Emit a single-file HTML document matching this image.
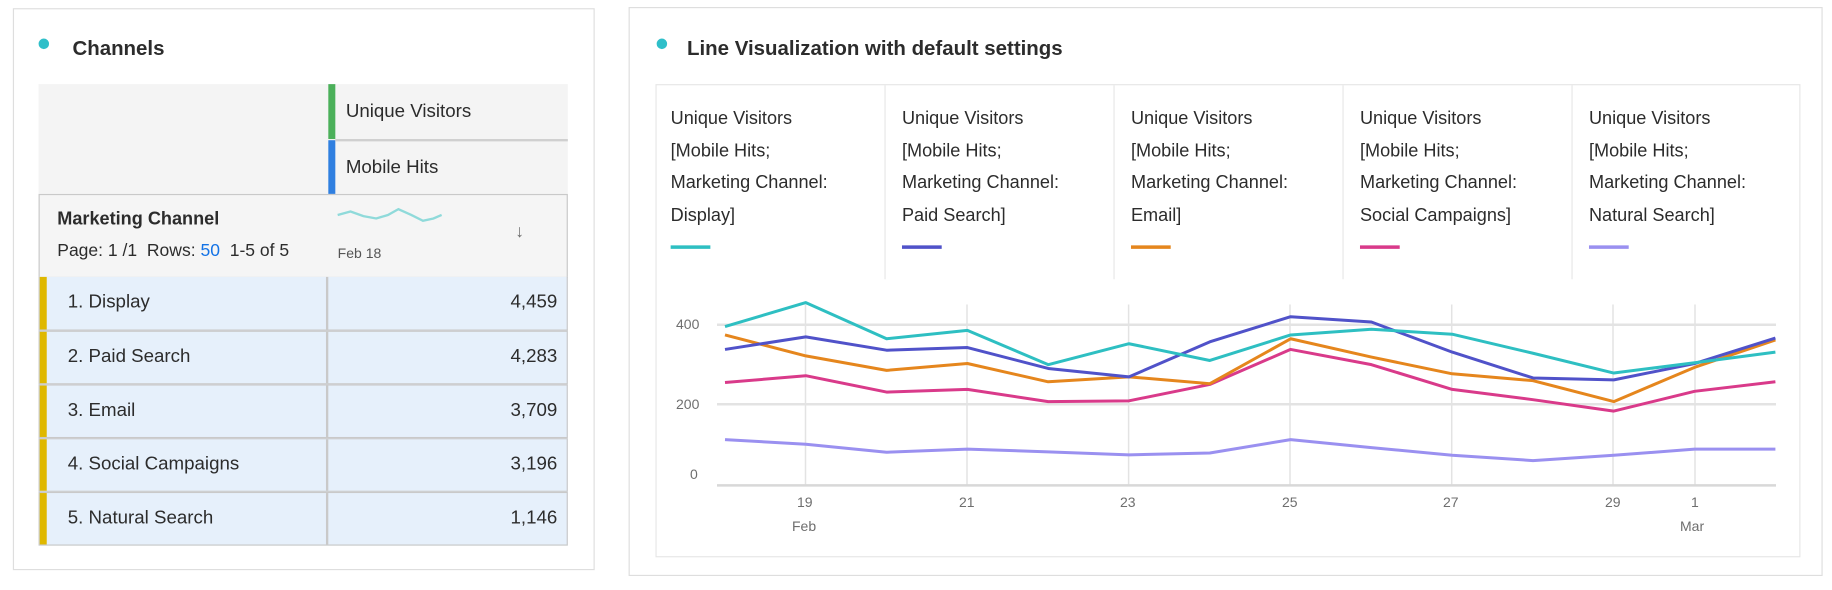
<!DOCTYPE html>
<html><head><meta charset="utf-8">
<style>
*{margin:0;padding:0;box-sizing:border-box}
body{width:1832px;height:590px;background:#fff;position:relative;overflow:hidden;font-family:"Liberation Sans",sans-serif;color:#2c2c2c}
#w{position:absolute;left:0;top:0;width:1568px;height:505px;transform:scale(1.16837);transform-origin:0 0}
.a{position:absolute}
.panel{border:1.5px solid #dedede}
.dot{width:9px;height:9px;border-radius:50%;background:#2fbfc9}
.t{font-weight:bold;font-size:17.5px;white-space:nowrap}
.leg{font-size:15.5px;line-height:27.5px;color:#2c2c2c;white-space:nowrap}
.sw{height:3px;width:34px}
.row{position:absolute;left:33px;width:453px;height:46px;background:#e6f0fb;border:1.5px solid #c9c9c9;border-top:none}
.row .y{position:absolute;left:0;top:0;bottom:0;width:6px;background:#dfb800}
.row .l{position:absolute;left:24px;top:13px;font-size:16px}
.row .v{position:absolute;right:8px;top:13px;font-size:16px}
.row .s{position:absolute;left:245px;top:0;bottom:0;width:2px;background:#c9c9c9}
.ax{position:absolute;font-size:14px;color:#6e6e6e;white-space:nowrap}
</style></head><body>
<div id="w">
  <div class="a panel" style="left:11px;top:7px;width:498px;height:481px"></div>
  <div class="a dot" style="left:33px;top:33px"></div>
  <div class="a t" style="left:62px;top:31px">Channels</div>
  <div class="a" style="left:33px;top:72px;width:453px;height:94px;background:#f4f4f4"></div>
  <div class="a" style="left:281px;top:72px;width:6px;height:47px;background:#4bb05a"></div>
  <div class="a" style="left:281px;top:120px;width:6px;height:46px;background:#2f7fe0"></div>
  <div class="a" style="left:287px;top:119px;width:199px;height:1.5px;background:#cfcfcf"></div>
  <div class="a" style="left:296px;top:87px;font-size:16px">Unique Visitors</div>
  <div class="a" style="left:296px;top:135px;font-size:16px">Mobile Hits</div>
  <div class="a" style="left:33px;top:166px;width:453px;height:72px;background:#f5f5f5;border:1.5px solid #c9c9c9"></div>
  <div class="a" style="left:49px;top:179px;font-size:15.5px;font-weight:bold">Marketing Channel</div>
  <div class="a" style="left:49px;top:206px;font-size:15px;white-space:nowrap">Page: 1 /1&nbsp; Rows: <span style="color:#1473e6">50</span>&nbsp; 1-5 of 5</div>
  <svg class="a" style="left:287px;top:176px" width="95" height="22"><polyline points="2,8 13,5 24,9 35,11 45,8 54,3 65,8 75,13 84,11 91,8" fill="none" stroke="#8fdada" stroke-width="2"/></svg>
  <div class="a" style="left:289px;top:210px;font-size:12px;color:#555">Feb 18</div>
  <div class="a" style="left:441px;top:190px;font-size:15px;font-weight:bold;color:#6e6e6e">&#8595;</div>
  <div class="row" style="top:237px"><div class="y"></div><div class="l">1. Display</div><div class="s"></div><div class="v">4,459</div></div>
  <div class="row" style="top:283px;border-top:1.5px solid #c9c9c9"><div class="y"></div><div class="l">2. Paid Search</div><div class="s"></div><div class="v">4,283</div></div>
  <div class="row" style="top:329px;border-top:1.5px solid #c9c9c9"><div class="y"></div><div class="l">3. Email</div><div class="s"></div><div class="v">3,709</div></div>
  <div class="row" style="top:375px;border-top:1.5px solid #c9c9c9"><div class="y"></div><div class="l">4. Social Campaigns</div><div class="s"></div><div class="v">3,196</div></div>
  <div class="row" style="top:421px;border-top:1.5px solid #c9c9c9"><div class="y"></div><div class="l">5. Natural Search</div><div class="s"></div><div class="v">1,146</div></div>

  <div class="a panel" style="left:538px;top:6px;width:1022px;height:487px"></div>
  <div class="a dot" style="left:562px;top:33px"></div>
  <div class="a t" style="left:588px;top:31px">Line Visualization with default settings</div>
  <div class="a" style="left:561px;top:72px;width:980px;height:405px;border:1.5px solid #e6e6e6"></div>
  <div class="a" style="left:757px;top:73px;width:1px;height:166px;background:#e6e6e6"></div>
  <div class="a" style="left:953px;top:73px;width:1px;height:166px;background:#e6e6e6"></div>
  <div class="a" style="left:1149px;top:73px;width:1px;height:166px;background:#e6e6e6"></div>
  <div class="a" style="left:1345px;top:73px;width:1px;height:166px;background:#e6e6e6"></div>
  <div class="a leg" style="left:574px;top:88px">Unique Visitors<br>[Mobile Hits;<br>Marketing Channel:<br>Display]</div>
  <div class="a leg" style="left:772px;top:88px">Unique Visitors<br>[Mobile Hits;<br>Marketing Channel:<br>Paid Search]</div>
  <div class="a leg" style="left:968px;top:88px">Unique Visitors<br>[Mobile Hits;<br>Marketing Channel:<br>Email]</div>
  <div class="a leg" style="left:1164px;top:88px">Unique Visitors<br>[Mobile Hits;<br>Marketing Channel:<br>Social Campaigns]</div>
  <div class="a leg" style="left:1360px;top:88px">Unique Visitors<br>[Mobile Hits;<br>Marketing Channel:<br>Natural Search]</div>
  <div class="a sw" style="left:574px;top:210px;background:#2ebfc2"></div>
  <div class="a sw" style="left:772px;top:210px;background:#5052c9"></div>
  <div class="a sw" style="left:968px;top:210px;background:#e5861d"></div>
  <div class="a sw" style="left:1164px;top:210px;background:#d93a8a"></div>
  <div class="a sw" style="left:1360px;top:210px;background:#9a90f0"></div>
</div>

<svg class="a" style="left:0;top:0" width="1832" height="590" viewBox="0 0 1832 1550" preserveAspectRatio="none">
 <g stroke="#e3e3e3" stroke-width="1.5" fill="none">
  <line x1="805.5" y1="800" x2="805.5" y2="1275" vector-effect="non-scaling-stroke"/>
  <line x1="967" y1="800" x2="967" y2="1275" vector-effect="non-scaling-stroke"/>
  <line x1="1128.6" y1="800" x2="1128.6" y2="1275" vector-effect="non-scaling-stroke"/>
  <line x1="1290" y1="800" x2="1290" y2="1275" vector-effect="non-scaling-stroke"/>
  <line x1="1451.7" y1="800" x2="1451.7" y2="1275" vector-effect="non-scaling-stroke"/>
  <line x1="1613" y1="800" x2="1613" y2="1275" vector-effect="non-scaling-stroke"/>
  <line x1="1695" y1="800" x2="1695" y2="1275" vector-effect="non-scaling-stroke"/>
  <line x1="717" y1="853" x2="1776" y2="853" stroke-width="2.5" vector-effect="non-scaling-stroke"/>
  <line x1="717" y1="1062" x2="1776" y2="1062" stroke-width="2.5" vector-effect="non-scaling-stroke"/>
  <line x1="717" y1="1275" x2="1776" y2="1275" stroke-width="2.5" stroke="#d8d8d8" vector-effect="non-scaling-stroke"/>
 </g>
 <g fill="none" stroke-width="3" stroke-linejoin="round">
  <polyline vector-effect="non-scaling-stroke" stroke="#9a90f0" points="725,1155 805.8,1167 886.6,1188 967.4,1180 1048.2,1187 1129,1195 1209.8,1190 1290.6,1155 1371.4,1176 1452.2,1196 1533,1210 1613.8,1196 1694.6,1180 1775.4,1180"/>
  <polyline vector-effect="non-scaling-stroke" stroke="#d93a8a" points="725,1005 805.8,987 886.6,1030 967.4,1023 1048.2,1055 1129,1053 1209.8,1010 1290.6,918 1371.4,958 1452.2,1023 1533,1050 1613.8,1080 1694.6,1028 1775.4,1003"/>
  <polyline vector-effect="non-scaling-stroke" stroke="#e5861d" points="725,880 805.8,935 886.6,973 967.4,955 1048.2,1003 1129,990 1209.8,1008 1290.6,890 1371.4,938 1452.2,982 1533,1000 1613.8,1055 1694.6,965 1775.4,893"/>
  <polyline vector-effect="non-scaling-stroke" stroke="#5052c9" points="725,918 805.8,885 886.6,920 967.4,913 1048.2,968 1129,990 1209.8,898 1290.6,832 1371.4,846 1452.2,925 1533,993 1613.8,998 1694.6,955 1775.4,888"/>
  <polyline vector-effect="non-scaling-stroke" stroke="#2ebfc2" points="725,858 805.8,795 886.6,890 967.4,868 1048.2,958 1129,903 1209.8,947 1290.6,880 1371.4,865 1452.2,878 1533,928 1613.8,980 1694.6,953 1775.4,925"/>
 </g>
</svg>
<div class="ax" style="left:676px;top:316px">400</div>
<div class="ax" style="left:676px;top:396px">200</div>
<div class="ax" style="left:690px;top:466px">0</div>
<div class="ax" style="left:797px;top:494px">19</div>
<div class="ax" style="left:959px;top:494px">21</div>
<div class="ax" style="left:1120px;top:494px">23</div>
<div class="ax" style="left:1282px;top:494px">25</div>
<div class="ax" style="left:1443px;top:494px">27</div>
<div class="ax" style="left:1605px;top:494px">29</div>
<div class="ax" style="left:1691px;top:494px">1</div>
<div class="ax" style="left:792px;top:518px">Feb</div>
<div class="ax" style="left:1680px;top:518px">Mar</div>
</body></html>
